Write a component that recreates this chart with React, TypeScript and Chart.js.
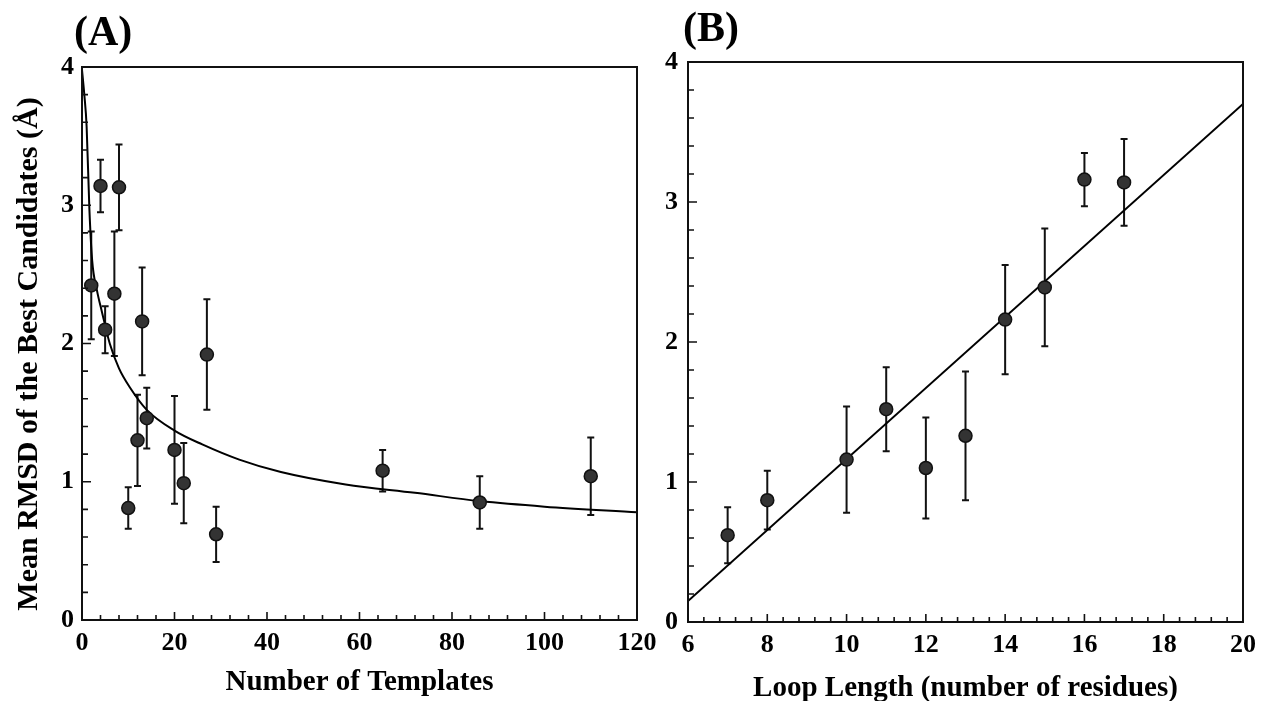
import { useEffect, useRef } from "react";
import { Chart, registerables } from "chart.js";

Chart.register(...registerables);

const FONT = "'Liberation Serif', 'Times New Roman', serif";

// ---------- Panel A data ----------
const templates = [2, 4, 5, 7, 8, 10, 12, 13, 14, 20, 22, 27, 29, 65, 86, 110];
const rmsdA = [2.42, 3.14, 2.1, 2.36, 3.13, 0.81, 1.3, 2.16, 1.46, 1.23, 0.99, 1.92, 0.62, 1.08, 0.85, 1.04];
const errA = [0.39, 0.19, 0.17, 0.45, 0.31, 0.15, 0.33, 0.39, 0.22, 0.39, 0.29, 0.4, 0.2, 0.15, 0.19, 0.28];
// fitted curve
const fitX = [0, 0.5, 1, 1.6, 2.2, 3.2, 4.3, 6, 8, 10.4, 14, 20, 26, 34, 43, 57, 72, 86, 100, 120];
const fitY = [3.98, 3.8, 3.57, 2.97, 2.6, 2.39, 2.23, 2.0, 1.82, 1.68, 1.52, 1.37, 1.27, 1.16, 1.07, 0.98, 0.92, 0.86, 0.82, 0.78];
const xTicksA = [0, 20, 40, 60, 80, 100, 120];
const yTicksA = [0, 1, 2, 3, 4];

// ---------- Panel B data ----------
const loopLength = [7, 8, 10, 11, 12, 13, 14, 15, 16, 17];
const rmsdB = [0.62, 0.87, 1.16, 1.52, 1.1, 1.33, 2.16, 2.39, 3.16, 3.14];
const errB = [0.2, 0.21, 0.38, 0.3, 0.36, 0.46, 0.39, 0.42, 0.19, 0.31];
const lineBX = [6, 20];
const lineBY = [0.15, 3.7];
const xTicksB = [6, 8, 10, 12, 14, 16, 18, 20];
const yTicksB = [0, 1, 2, 3, 4];

type PanelCfg = {
  xs: number[];
  ys: number[];
  err: number[];
  lineX: number[];
  lineY: number[];
  xTicks: number[];
  yTicks: number[];
  xMinorStep: number;
  yMinorStep: number;
  xTitle: string;
  xTitlePad: number;
  yTitle?: string;
  yTitlePos?: [number, number];
  letter: string;
  letterPos: [number, number];
  area: { left: number; top: number; right: number; bottom: number };
  width: number;
  height: number;
  yLabelPad: number;
};

function makePlugin(cfg: PanelCfg) {
  return {
    id: "panelDeco",
    beforeDatasetsDraw(chart: any) {
      const ctx = chart.ctx;
      const xs = chart.scales.x;
      const ys = chart.scales.y;
      ctx.save();
      ctx.strokeStyle = "#111";
      ctx.lineWidth = 2;
      cfg.xs.forEach((x, i) => {
        const px = xs.getPixelForValue(x);
        const t = ys.getPixelForValue(cfg.ys[i] + cfg.err[i]);
        const b = ys.getPixelForValue(cfg.ys[i] - cfg.err[i]);
        ctx.beginPath();
        ctx.moveTo(px, t);
        ctx.lineTo(px, b);
        ctx.moveTo(px - 3.5, t);
        ctx.lineTo(px + 3.5, t);
        ctx.moveTo(px - 3.5, b);
        ctx.lineTo(px + 3.5, b);
        ctx.stroke();
      });
      ctx.restore();
    },
    afterDraw(chart: any) {
      const ctx = chart.ctx;
      const xs = chart.scales.x;
      const ys = chart.scales.y;
      const a = chart.chartArea;
      ctx.save();
      // frame
      ctx.strokeStyle = "#111";
      ctx.lineWidth = 2;
      ctx.strokeRect(a.left, a.top, a.right - a.left, a.bottom - a.top);
      // inward ticks
      ctx.lineWidth = 1.6;
      ctx.beginPath();
      const xmin = cfg.xTicks[0];
      const xmax = cfg.xTicks[cfg.xTicks.length - 1];
      const nx = Math.round((xmax - xmin) / cfg.xMinorStep);
      for (let k = 0; k <= nx; k++) {
        const v = xmin + k * cfg.xMinorStep;
        const px = xs.getPixelForValue(v);
        const major = cfg.xTicks.some((t) => Math.abs(t - v) < 1e-6);
        const len = major ? 8 : 5;
        ctx.moveTo(px, a.bottom);
        ctx.lineTo(px, a.bottom - len);
      }
      const ymin = cfg.yTicks[0];
      const ymax = cfg.yTicks[cfg.yTicks.length - 1];
      const ny = Math.round((ymax - ymin) / cfg.yMinorStep);
      for (let k = 0; k <= ny; k++) {
        const v = ymin + k * cfg.yMinorStep;
        const py = ys.getPixelForValue(v);
        const major = cfg.yTicks.some((t) => Math.abs(t - v) < 1e-6);
        const len = major ? 9 : 6;
        ctx.moveTo(a.left, py);
        ctx.lineTo(a.left + len, py);
      }
      ctx.stroke();
      // panel letter
      ctx.fillStyle = "#000";
      ctx.font = `bold 42px ${FONT}`;
      ctx.textAlign = "left";
      ctx.textBaseline = "alphabetic";
      ctx.fillText(cfg.letter, cfg.letterPos[0], cfg.letterPos[1]);
      // y title
      if (cfg.yTitle && cfg.yTitlePos) {
        ctx.translate(cfg.yTitlePos[0], cfg.yTitlePos[1]);
        ctx.rotate(-Math.PI / 2);
        ctx.font = `bold 30px ${FONT}`;
        ctx.textAlign = "center";
        ctx.textBaseline = "middle";
        ctx.fillText(cfg.yTitle, 0, 0);
      }
      ctx.restore();
    },
  };
}

function Panel({ cfg, left }: { cfg: PanelCfg; left: number }) {
  const ref = useRef<HTMLCanvasElement | null>(null);
  useEffect(() => {
    if (!ref.current) return;
    const a = cfg.area;
    const chart = new Chart(ref.current, {
      type: "scatter",
      data: {
        datasets: [
          {
            type: "line",
            data: cfg.lineX.map((x, i) => ({ x, y: cfg.lineY[i] })),
            borderColor: "#000",
            borderWidth: 2,
            pointRadius: 0,
            fill: false,
            cubicInterpolationMode: "monotone",
            order: 2,
          } as any,
          {
            data: cfg.xs.map((x, i) => ({ x, y: cfg.ys[i] })),
            pointRadius: 6.5,
            pointBackgroundColor: "#333333",
            pointBorderColor: "#111",
            pointBorderWidth: 1.5,
            showLine: false,
            order: 1,
          },
        ],
      },
      options: {
        responsive: false,
        animation: false,
        devicePixelRatio: 1,
        layout: {
          autoPadding: false,
          padding: { left: 0, top: a.top, right: cfg.width - a.right, bottom: 0 },
        },
        plugins: { legend: { display: false }, tooltip: { enabled: false } },
        scales: {
          x: {
            type: "linear",
            min: cfg.xTicks[0],
            max: cfg.xTicks[cfg.xTicks.length - 1],
            afterBuildTicks: (s: any) => {
              s.ticks = cfg.xTicks.map((v) => ({ value: v }));
            },
            afterFit: (s: any) => {
              s.height = cfg.height - a.bottom;
              s.paddingLeft = 0;
              s.paddingRight = 0;
              s.paddingTop = 0;
              s.paddingBottom = 0;
            },
            grid: { display: false, drawTicks: false },
            border: { display: false },
            ticks: {
              color: "#000",
              padding: 8,
              maxRotation: 0,
              autoSkip: false,
              font: { family: FONT, size: 26, weight: "bold" },
            },
            title: {
              display: true,
              text: cfg.xTitle,
              color: "#000",
              font: { family: FONT, size: 29, weight: "bold", lineHeight: 1 },
              padding: { top: 0, bottom: cfg.xTitlePad },
            },
          },
          y: {
            type: "linear",
            min: cfg.yTicks[0],
            max: cfg.yTicks[cfg.yTicks.length - 1],
            afterBuildTicks: (s: any) => {
              s.ticks = cfg.yTicks.map((v) => ({ value: v }));
            },
            afterFit: (s: any) => {
              s.width = a.left;
              s.paddingLeft = 0;
              s.paddingRight = 0;
              s.paddingTop = 0;
              s.paddingBottom = 0;
            },
            grid: { display: false, drawTicks: false },
            border: { display: false },
            ticks: {
              color: "#000",
              padding: cfg.yLabelPad,
              autoSkip: false,
              font: { family: FONT, size: 26, weight: "bold" },
            },
          },
        },
      } as any,
      plugins: [makePlugin(cfg)],
    });
    return () => chart.destroy();
  }, [cfg]);
  return (
    <canvas
      ref={ref}
      width={cfg.width}
      height={cfg.height}
      style={{ position: "absolute", left, top: 0, width: cfg.width, height: cfg.height }}
    />
  );
}

const cfgA: PanelCfg = {
  xs: templates,
  ys: rmsdA,
  err: errA,
  lineX: fitX,
  lineY: fitY,
  xTicks: xTicksA,
  yTicks: yTicksA,
  xMinorStep: 4,
  yMinorStep: 0.2,
  xTitle: "Number of Templates",
  xTitlePad: 4,
  yTitle: "Mean RMSD of the Best Candidates (Å)",
  yTitlePos: [29, 354],
  letter: "(A)",
  letterPos: [74, 45],
  area: { left: 82, top: 67, right: 637, bottom: 620 },
  width: 660,
  height: 701,
  yLabelPad: 8,
};

const cfgB: PanelCfg = {
  xs: loopLength,
  ys: rmsdB,
  err: errB,
  lineX: lineBX,
  lineY: lineBY,
  xTicks: xTicksB,
  yTicks: yTicksB,
  xMinorStep: 0.4,
  yMinorStep: 0.2,
  xTitle: "Loop Length (number of residues)",
  xTitlePad: -2,
  letter: "(B)",
  letterPos: [23, 41],
  area: { left: 28, top: 62, right: 583, bottom: 622 },
  width: 603,
  height: 701,
  yLabelPad: 10,
};

export default function App() {
  return (
    <div style={{ position: "absolute", left: 0, top: 0, width: 1263, height: 701, background: "#fff", overflow: "hidden" }}>
      <Panel cfg={cfgA} left={0} />
      <Panel cfg={cfgB} left={660} />
    </div>
  );
}
